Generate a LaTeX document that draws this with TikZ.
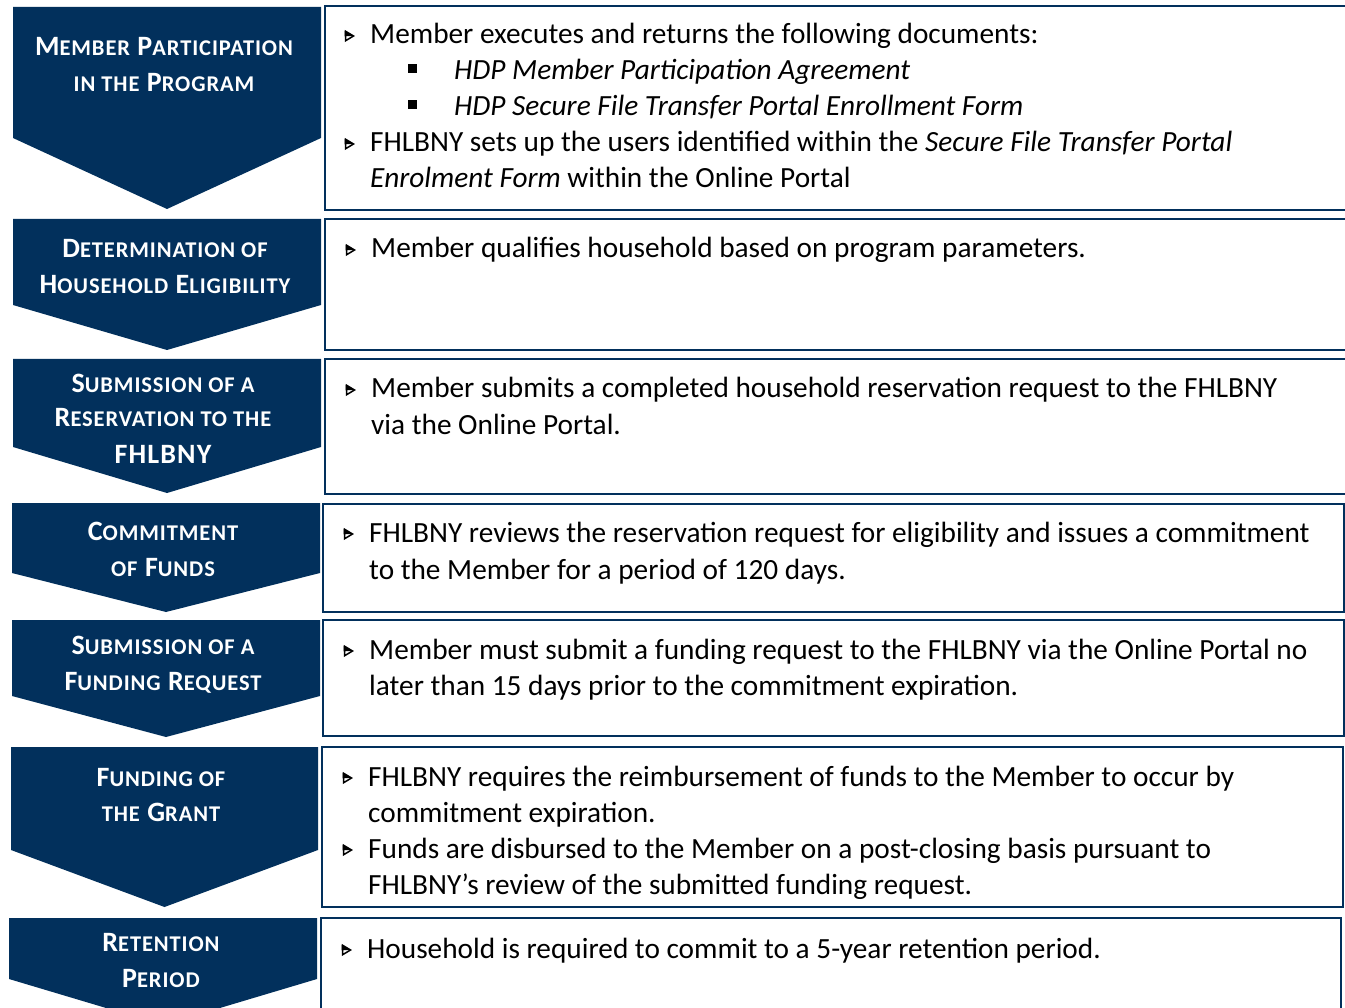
\documentclass[tikz,border=0pt]{standalone}
\usepackage{fontspec}
\setmainfont{Carlito}
\definecolor{navy}{RGB}{2,48,92}
\newcommand\smc[1]{{\fontsize{22.5}{36}\selectfont #1}}
\tikzset{
  chev/.style={fill=navy},
  infobox/.style={draw=navy, line width=2pt, fill=white},
  ttl/.style={text=white, font=\bfseries\addfontfeature{LetterSpace=4}\fontsize{28}{36}\selectfont, anchor=base, inner sep=0pt},
  bodytxt/.style={text=black, font=\fontsize{29.3}{36}\selectfont, anchor=base west, inner sep=0pt},
  pics/arrbul/.style={code={
    \draw[line width=1.5pt, line join=miter] (-3.5,-4.8) -- (4.5,0) -- (-3.5,4.8) -- cycle;
    \fill (-4.3,-5.3) -- (5,0) -- (-4.3,0.3) -- cycle;
  }},
  pics/sqbul/.style={code={\fill (-4.5,-4.5) rectangle (4.5,4.5);}}
}
\begin{document}
\begin{tikzpicture}[x=1pt,y=-1pt]
\useasboundingbox (0,0) rectangle (1345,1008);
\clip (0,0) rectangle (1345,1008);
\fill[white] (0,0) rectangle (1345,1008);

% chevrons
\fill[chev] (13,7) -- (321,7) -- (321,138) -- (167,209) -- (13,138) -- cycle;
\fill[chev] (13,219) -- (321,219) -- (321,305) -- (167,350) -- (13,305) -- cycle;
\fill[chev] (13,359) -- (321,359) -- (321,447) -- (167,493) -- (13,447) -- cycle;
\fill[chev] (12,503) -- (320,503) -- (320,573) -- (166,612) -- (12,573) -- cycle;
\fill[chev] (12,620) -- (320,620) -- (320,696) -- (166,737) -- (12,696) -- cycle;
\fill[chev] (11,747) -- (318,747) -- (318,850) -- (164.5,907) -- (11,850) -- cycle;
\fill[chev] (9,918) -- (317,918) -- (317,979) -- (163,1025) -- (9,979) -- cycle;

% boxes
\draw[infobox] (325,6) rectangle (1360,210);
\draw[infobox] (325,219) rectangle (1360,350);
\draw[infobox] (325,359) rectangle (1360,494);
\draw[infobox] (323,504) rectangle (1344,612);
\draw[infobox] (323,620) rectangle (1344,736);
\draw[infobox] (322,747) rectangle (1343,907);
\draw[infobox] (321,918) rectangle (1341,1030);

% titles
\node[ttl] (t1a) at (164,56) {M\smc{EMBER} P\smc{ARTICIPATION}};
\node[ttl] (t1b) at (164,92) {\smc{IN THE} P\smc{ROGRAM}};
\node[ttl] (t2a) at (165,258) {D\smc{ETERMINATION OF}};
\node[ttl] (t2b) at (165,294) {H\smc{OUSEHOLD} E\smc{LIGIBILITY}};
\node[ttl] (t3a) at (163,392) {S\smc{UBMISSION OF A}};
\node[ttl] (t3b) at (163,427) {R\smc{ESERVATION TO THE}};
\node[ttl] (t3c) at (163,463) {FHLBNY};
\node[ttl] (t4a) at (163,540) {C\smc{OMMITMENT}};
\node[ttl] (t4b) at (163,576) {\smc{OF} F\smc{UNDS}};
\node[ttl] (t5a) at (163,654) {S\smc{UBMISSION OF A}};
\node[ttl] (t5b) at (163,690) {F\smc{UNDING} R\smc{EQUEST}};
\node[ttl] (t6a) at (161,786) {F\smc{UNDING OF}};
\node[ttl] (t6b) at (161,821) {\smc{THE} G\smc{RANT}};
\node[ttl] (t7a) at (161,951) {R\smc{ETENTION}};
\node[ttl] (t7b) at (161,987) {P\smc{ERIOD}};

% body row 1
\pic at (349,36) {arrbul};
\node[bodytxt] (b1a) at (370,44) {Member executes and returns the following documents:};
\pic at (412.5,68.5) {sqbul};
\node[bodytxt] (b1b) at (454,80) {\itshape HDP Member Participation Agreement};
\pic at (412.5,104.5) {sqbul};
\node[bodytxt] (b1c) at (454,116) {\itshape HDP Secure File Transfer Portal Enrollment Form};
\pic at (349,144) {arrbul};
\node[bodytxt] (b1d) at (370,152) {FHLBNY sets up the users identified within the \textit{Secure File Transfer Portal}};
\node[bodytxt] (b1e) at (370,188) {\textit{Enrolment Form} within the Online Portal};

% row 2
\pic at (350,250) {arrbul};
\node[bodytxt] (b2a) at (371,258) {Member qualifies household based on program parameters.};

% row 3
\pic at (350,390) {arrbul};
\node[bodytxt] (b3a) at (371,398) {Member submits a completed household reservation request to the FHLBNY};
\node[bodytxt] (b3b) at (371,435) {via the Online Portal.};

% row 4
\pic at (348,534) {arrbul};
\node[bodytxt] (b4a) at (369,542) {FHLBNY reviews the reservation request for eligibility and issues a commitment};
\node[bodytxt] (b4b) at (369,579) {to the Member for a period of 120 days.};

% row 5
\pic at (348,651) {arrbul};
\node[bodytxt] (b5a) at (369,659) {Member must submit a funding request to the FHLBNY via the Online Portal no};
\node[bodytxt] (b5b) at (369,695) {later than 15 days prior to the commitment expiration.};

% row 6
\pic at (347,778) {arrbul};
\node[bodytxt] (b6a) at (368,786) {FHLBNY requires the reimbursement of funds to the Member to occur by};
\node[bodytxt] (b6b) at (368,822) {commitment expiration.};
\pic at (347,850) {arrbul};
\node[bodytxt] (b6c) at (368,858) {Funds are disbursed to the Member on a post-closing basis pursuant to};
\node[bodytxt] (b6d) at (368,894) {FHLBNY’s review of the submitted funding request.};

% row 7
\pic at (346,950) {arrbul};
\node[bodytxt] (b7a) at (367,958) {Household is required to commit to a 5-year retention period.};
\end{tikzpicture}
\end{document}
